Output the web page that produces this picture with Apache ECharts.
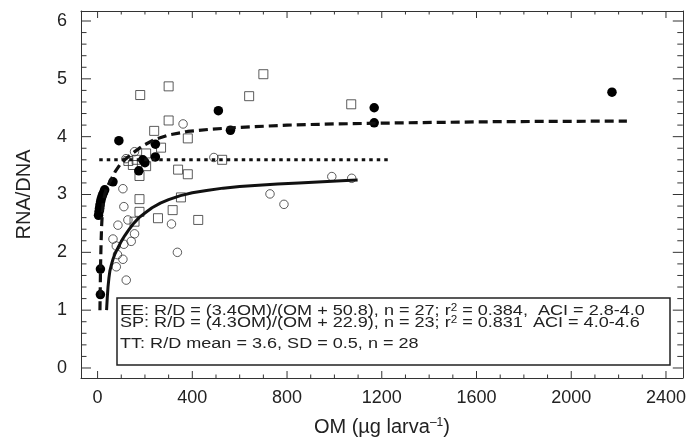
<!DOCTYPE html>
<html><head><meta charset="utf-8">
<script src="https://cdn.jsdelivr.net/npm/echarts@6/dist/echarts.min.js"></script>
<style>html,body{margin:0;padding:0;background:#fff}#c{width:689px;height:443px}</style>
</head><body><div id="c"></div>
<script>
// ---- tick labels ----
const xTickLabels = [0, 400, 800, 1200, 1600, 2000, 2400];
const xMinorTicks = [0,100,200,300,400,500,600,700,800,900,1000,1100,1200,1300,1400,1500,1600,1700,1800,1900,2000,2100,2200,2300,2400];
const yTickLabels = [0, 1, 2, 3, 4, 5, 6];
const yMinorTicks = [0,0.2,0.4,0.6,0.8,1,1.2,1.4,1.6,1.8,2,2.2,2.4,2.6,2.8,3,3.2,3.4,3.6,3.8,4,4.2,4.4,4.6,4.8,5,5.2,5.4,5.6,5.8,6];

// ---- SP (filled circles) ----
const spX = [12,12,4,6,8,10,13,16,20,25,30,65,90,174,191,200,244,244,510,561,1168,1168,2172];
const spY = [1.27,1.71,2.64,2.70,2.76,2.82,2.88,2.93,2.98,3.03,3.08,3.22,3.93,3.41,3.60,3.55,3.65,3.87,4.45,4.11,4.50,4.24,4.77];

// ---- EE (open circles) ----
const eeX = [361,156,491,107,111,128,86,312,156,65,142,111,79,84,337,107,79,121,989,1073,728,787,120];
const eeY = [4.22,3.74,3.64,3.10,2.79,2.56,2.47,2.49,2.32,2.23,2.19,2.14,2.11,1.96,2.00,1.88,1.75,1.52,3.31,3.28,3.01,2.83,3.62];

// ---- TT (open squares) ----
const ttX = [180,300,300,239,381,268,205,526,149,177,205,340,381,177,352,317,177,255,425,156,700,1071,640,130,165];
const ttY = [4.72,4.87,4.28,4.10,3.97,3.81,3.71,3.60,3.51,3.32,3.49,3.43,3.35,2.92,2.95,2.73,2.70,2.59,2.56,2.53,5.08,4.56,4.70,3.58,3.60];

// ---- fitted curves ----
const spCurveX = [10,11,12,13,15,17,20,24,30,38,48,60,75,95,120,150,190,240,300,380,480,600,800,1000,1300,1700,2235];
const spCurveY = [1.0,1.3,1.6,1.85,2.2,2.45,2.68,2.85,3.0,3.1,3.19,3.28,3.40,3.52,3.62,3.72,3.84,3.95,4.03,4.09,4.13,4.16,4.20,4.22,4.24,4.26,4.27];
const eeCurveX = [38,41,44,48,52,58,65,72,80,90,100,115,130,150,175,200,230,265,300,350,400,460,530,600,680,760,850,950,1050,1098];
const eeCurveY = [1.0,1.22,1.40,1.56,1.68,1.78,1.88,1.96,2.03,2.11,2.19,2.29,2.38,2.49,2.60,2.68,2.77,2.85,2.91,2.98,3.03,3.07,3.11,3.14,3.16,3.18,3.20,3.22,3.24,3.25];
const ttMeanX = [7, 1230];
const ttMeanY = [3.6, 3.6];

const FONT = 'Liberation Sans, Arial, Helvetica, sans-serif';
const INK = '#222';
const AX = '#333';
const zip = (a, b) => a.map((v, i) => [v, b[i]]);

const X_MIN = -70, X_MAX = 2471, Y_MIN = -0.173, Y_MAX = 6.173;

const baseX = (pos) => ({
  type: 'value', position: pos, min: X_MIN, max: X_MAX,
  axisLine: { show: true, onZero: false, lineStyle: { color: AX, width: 1 } },
  axisTick: { show: false }, splitLine: { show: false }, axisLabel: { show: false }
});
const baseY = (pos) => ({
  type: 'value', position: pos, min: Y_MIN, max: Y_MAX,
  axisLine: { show: true, onZero: false, lineStyle: { color: AX, width: 1 } },
  axisTick: { show: false }, splitLine: { show: false }, axisLabel: { show: false }
});

const xMain = baseX('bottom');
xMain.axisLabel = { show: true, customValues: xTickLabels, fontSize: 18, color: INK, fontFamily: FONT, margin: 11,
  formatter: v => String(v) };
xMain.name = 'OM (µg larva{sup|–1})';
xMain.nameLocation = 'middle';
xMain.nameGap = 39;
xMain.nameTextStyle = { fontSize: 20, color: INK, fontFamily: FONT,
  rich: { sup: { fontSize: 12, color: INK, fontFamily: FONT, verticalAlign: 'top', padding: [0, 0, 8, 0] } } };

const yMain = baseY('left');
yMain.axisLabel = { show: true, customValues: yTickLabels, fontSize: 18, color: INK, fontFamily: FONT, margin: 14,
  formatter: v => String(v) };
yMain.name = 'RNA/DNA';
yMain.nameLocation = 'middle';
yMain.nameGap = 47;
yMain.nameTextStyle = { fontSize: 20, color: INK, fontFamily: FONT };

// tick marks drawn through the axes' own scales
function xTickRender(params, api) {
  const v = api.value(0);
  const major = xTickLabels.indexOf(v) >= 0;
  const len = major ? 7 : 3.5;
  const b = api.coord([v, Y_MIN]);
  const t = api.coord([v, Y_MAX]);
  const st = { stroke: AX, lineWidth: 1 };
  return { type: 'group', children: [
    { type: 'line', shape: { x1: b[0], y1: b[1], x2: b[0], y2: b[1] - len }, style: st },
    { type: 'line', shape: { x1: t[0], y1: t[1], x2: t[0], y2: t[1] + len }, style: st }
  ] };
}
function yTickRender(params, api) {
  const v = api.value(1);
  const major = yTickLabels.some(t => Math.abs(t - v) < 1e-6);
  const len = major ? 10 : 5.5;
  const l = api.coord([X_MIN, v]);
  const r = api.coord([X_MAX, v]);
  const st = { stroke: AX, lineWidth: 1 };
  return { type: 'group', children: [
    { type: 'line', shape: { x1: l[0], y1: l[1], x2: l[0] + len, y2: l[1] }, style: st },
    { type: 'line', shape: { x1: r[0], y1: r[1], x2: r[0] - len, y2: r[1] }, style: st }
  ] };
}

const supRich = { sup: { fontSize: 10, fontFamily: FONT, fill: INK, verticalAlign: 'top', padding: [0, 0, 6, 0] } };
const BOX_SCALE = 1.165;

const chart = echarts.init(document.getElementById('c'), null, { renderer: 'canvas' });
chart.setOption({
  animation: false,
  backgroundColor: '#fff',
  grid: { left: 81, top: 11, right: 1, bottom: 65, containLabel: false },
  xAxis: [ xMain, baseX('top') ],
  yAxis: [ yMain, baseY('right') ],
  series: [
    { type: 'custom', name: 'xticks', data: xMinorTicks.map(v => [v, 0]), renderItem: xTickRender, clip: false, silent: true, z: 1 },
    { type: 'custom', name: 'yticks', data: yMinorTicks.map(v => [0, v]), renderItem: yTickRender, clip: false, silent: true, z: 1 },
    { type: 'scatter', name: 'TT', data: zip(ttX, ttY), symbol: 'rect', symbolSize: 9,
      itemStyle: { color: 'rgba(255,255,255,0)', borderColor: '#333', borderWidth: 1 }, z: 3 },
    { type: 'scatter', name: 'EE', data: zip(eeX, eeY), symbol: 'circle', symbolSize: 8.5,
      itemStyle: { color: 'rgba(255,255,255,0)', borderColor: '#333', borderWidth: 1 }, z: 3 },
    { type: 'scatter', name: 'SP', data: zip(spX, spY), symbol: 'circle', symbolSize: 9.5,
      itemStyle: { color: '#000', opacity: 1, borderWidth: 0 }, z: 4 },
    { type: 'line', name: 'SP fit', data: zip(spCurveX, spCurveY), smooth: false, showSymbol: false, symbol: 'none',
      lineStyle: { color: '#111', width: 3.2, type: [9, 5], join: 'round' }, z: 5 },
    { type: 'line', name: 'EE fit', data: zip(eeCurveX, eeCurveY), smooth: false, showSymbol: false, symbol: 'none',
      lineStyle: { color: '#111', width: 3, type: 'solid', join: 'round' }, z: 5 },
    { type: 'line', name: 'TT mean', data: zip(ttMeanX, ttMeanY), showSymbol: false, symbol: 'none',
      lineStyle: { color: '#111', width: 3, type: [3.5, 4] }, z: 5 }
  ],
  graphic: [
    { type: 'rect', shape: { x: 117, y: 298, width: 553, height: 67 },
      style: { fill: '#fff', stroke: '#222', lineWidth: 1.5 }, z: 20 },
    { type: 'text', x: 120, y: 311, scaleX: BOX_SCALE, z: 21,
      style: { text: 'EE: R/D = (3.4OM)/(OM + 50.8), n = 27; r{sup|2} = 0.384,  ACI = 2.8-4.0',
        fontSize: 15.5, fontFamily: FONT, fill: INK, verticalAlign: 'middle', rich: supRich } },
    { type: 'text', x: 120, y: 323, scaleX: BOX_SCALE, z: 21,
      style: { text: 'SP: R/D = (4.3OM)/(OM + 22.9), n = 23; r{sup|2} = 0.831  ACI = 4.0-4.6',
        fontSize: 15.5, fontFamily: FONT, fill: INK, verticalAlign: 'middle', rich: supRich } },
    { type: 'text', x: 120, y: 344, scaleX: BOX_SCALE, z: 21,
      style: { text: 'TT: R/D mean = 3.6, SD = 0.5, n = 28',
        fontSize: 15.5, fontFamily: FONT, fill: INK, verticalAlign: 'middle' } }
  ]
});
</script></body></html>
